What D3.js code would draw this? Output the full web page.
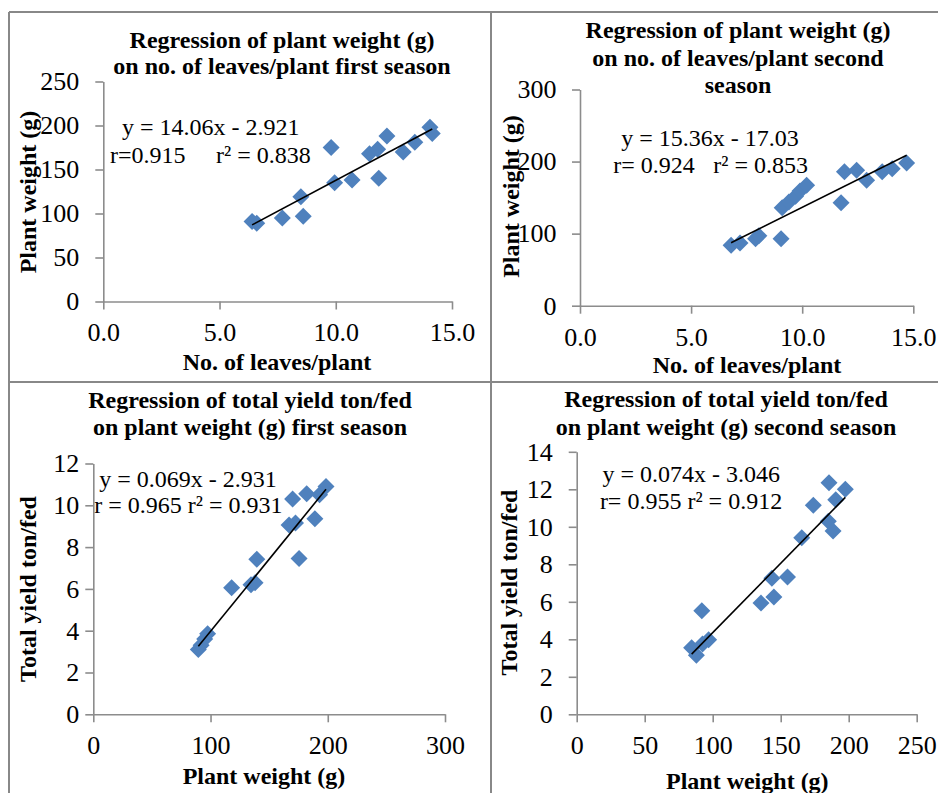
<!DOCTYPE html>
<html>
<head>
<meta charset="utf-8">
<script src="https://cdn.jsdelivr.net/npm/d3@7"></script>
<style>
  body { margin: 0; background: #fff; }
  svg { display: block; }
</style>
</head>
<body>
<svg id="chart" width="938" height="793"></svg>
<script>
// first season: plant weight vs leaves
const leaves1 = [6.4, 6.6, 7.7, 8.5, 8.6, 9.8, 9.95, 10.7, 11.45, 11.8, 11.85, 12.2, 12.9, 13.4, 14.05, 14.15]
const weight1 = [91, 89, 95, 119, 97, 175, 135, 138, 168, 173, 140, 188, 170, 181, 198, 191]

// second season: plant weight vs leaves
const leaves2 = [6.8, 7.2, 7.9, 8.05, 9.05, 9.1, 9.4, 9.7, 9.9, 10.2, 11.75, 11.9, 12.45, 12.9, 13.6, 14.05, 14.7]
const weight2 = [84, 87, 93, 97, 93, 136, 144, 152, 159, 167, 143, 186, 188, 174, 186, 190, 198]

// first season: yield vs plant weight
const pw3 = [89.6, 92, 95, 97.5, 118, 134.5, 138, 139.5, 167, 172.5, 175.5, 170, 182, 189, 193, 198.5]
const yield3 = [3.1, 3.3, 3.6, 3.85, 6.05, 6.2, 6.3, 7.42, 9.06, 9.15, 7.46, 10.3, 10.55, 9.36, 10.5, 10.9]

// second season: yield vs plant weight
const pw4 = [84.5, 88, 92.5, 97, 92, 135.5, 143.5, 145, 155, 165.5, 174, 185.5, 185, 188.5, 190.5, 197.5]
const yield4 = [3.55, 3.15, 3.75, 3.98, 5.52, 5.93, 7.25, 6.26, 7.32, 9.41, 11.15, 12.35, 10.3, 9.78, 11.44, 12.0]

const slopes = [14.06, 15.36, 0.069, 0.074]
const intercepts = [-2.921, -17.03, -2.931, -3.046]

const titles = [
  ["Regression of plant weight (g)", "on no. of leaves/plant first season"],
  ["Regression of plant weight (g)", "on no. of leaves/plant second", "season"],
  ["Regression of total yield ton/fed", "on plant weight (g) first season"],
  ["Regression of total yield ton/fed", "on plant weight (g) second season"]
]
const xTitles = ["No. of leaves/plant", "No. of leaves/plant", "Plant weight (g)", "Plant weight (g)"]
const yTitles = ["Plant weight (g)", "Plant weight (g)", "Total yield ton/fed", "Total yield ton/fed"]

const xTicks1 = [0, 5, 10, 15]
const yTicks1 = [0, 50, 100, 150, 200, 250]
const yTicks2 = [0, 100, 200, 300]
const xTicks3 = [0, 100, 200, 300]
const yTicks3 = [0, 2, 4, 6, 8, 10, 12]
const xTicks4 = [0, 50, 100, 150, 200, 250]
const yTicks4 = [0, 2, 4, 6, 8, 10, 12, 14]

const FONT = '"Liberation Serif", "Times New Roman", serif'
const svg = d3.select('#chart')

// table frame
const frame = svg.append('g').attr('stroke', '#888').attr('stroke-width', 2)
frame.append('line').attr('x1', 9).attr('x2', 9).attr('y1', 12).attr('y2', 793)
frame.append('line').attr('x1', 9).attr('x2', 938).attr('y1', 12).attr('y2', 12)
frame.append('line').attr('x1', 491).attr('x2', 491).attr('y1', 12).attr('y2', 793)
frame.append('line').attr('x1', 9).attr('x2', 938).attr('y1', 382).attr('y2', 382)

const panels = [
  {
    xs: leaves1, ys: weight1, xDom: [0, 15], yDom: [0, 250], xRange: [103.3, 452], yRange: [301.5, 81.5],
    xTicks: xTicks1, yTicks: yTicks1, xFmt: d3.format('.1f'), yPad: 16,
    title: { x: 282, y: [48, 74] }, xt: { x: 277, y: 370 }, yt: { x: 36, y: 192 },
    eq: [
      { text: 'y = 14.06x - 2.921', x: 122, y: 135, anchor: 'start' },
      { text: 'r=0.915', x: 110, y: 162.5, anchor: 'start' },
      { text: 'r² = 0.838', x: 216, y: 162.5, anchor: 'start' }
    ]
  },
  {
    xs: leaves2, ys: weight2, xDom: [0, 15], yDom: [0, 300], xRange: [580, 913.3], yRange: [305.7, 89.5],
    xTicks: xTicks1, yTicks: yTicks2, xFmt: d3.format('.1f'), yPad: 15.5,
    title: { x: 738, y: [37.7, 65.5, 92.5] }, xt: { x: 747, y: 372.5 }, yt: { x: 518.5, y: 196.5 },
    eq: [
      { text: 'y = 15.36x - 17.03', x: 710, y: 145.5, anchor: 'middle' },
      { text: 'r= 0.924', x: 613.3, y: 172.5, anchor: 'start' },
      { text: 'r² = 0.853', x: 713.3, y: 172.5, anchor: 'start' }
    ]
  },
  {
    xs: pw3, ys: yield3, xDom: [0, 300], yDom: [0, 12], xRange: [93.3, 445], yRange: [714.3, 463.5],
    xTicks: xTicks3, yTicks: yTicks3, xFmt: d3.format('d'), yPad: 6,
    title: { x: 250, y: [408, 435.3] }, xt: { x: 264, y: 784 }, yt: { x: 35.5, y: 589 },
    eq: [
      { text: 'y = 0.069x - 2.931', x: 188, y: 487.3, anchor: 'middle' },
      { text: 'r = 0.965 r² = 0.931', x: 188.3, y: 513.3, anchor: 'middle' }
    ]
  },
  {
    xs: pw4, ys: yield4, xDom: [0, 250], yDom: [0, 14], xRange: [576.7, 916.7], yRange: [714.3, 451.8],
    xTicks: xTicks4, yTicks: yTicks4, xFmt: d3.format('d'), yPad: 16,
    title: { x: 726, y: [407.3, 435] }, xt: { x: 747.3, y: 789 }, yt: { x: 517, y: 582.5 },
    eq: [
      { text: 'y = 0.074x - 3.046', x: 691.3, y: 481.7, anchor: 'middle' },
      { text: 'r= 0.955 r² = 0.912', x: 691, y: 509.3, anchor: 'middle' }
    ]
  }
]

const diamond = r => `M0,${-r}L${r},0L0,${r}L${-r},0Z`

panels.forEach((p, i) => {
  const g = svg.append('g')
  const x = d3.scaleLinear().domain(p.xDom).range(p.xRange)
  const y = d3.scaleLinear().domain(p.yDom).range(p.yRange)

  // axes
  const xaxis = d3.axisBottom(x).tickValues(p.xTicks).tickFormat(p.xFmt)
    .tickSize(8).tickSizeOuter(0).tickPadding(13.5)
  const yaxis = d3.axisLeft(y).tickValues(p.yTicks).tickSize(8).tickSizeOuter(0).tickPadding(p.yPad)

  const gx = g.append('g').attr('transform', `translate(0, ${p.yRange[0]})`).call(xaxis)
  const gy = g.append('g').attr('transform', `translate(${p.xRange[0]}, 0)`).call(yaxis)
  ;[gx, gy].forEach(a => {
    a.attr('font-family', null).attr('font-size', null)
    a.selectAll('path, line').attr('stroke', '#8c8c8c').attr('stroke-width', 1.6)
    a.selectAll('text')
      .style('font-family', FONT)
      .style('font-size', '26px')
      .attr('fill', '#000')
  })

  // title
  g.append('text')
    .attr('text-anchor', 'middle')
    .style('font-family', FONT)
    .style('font-size', '24px').style('font-weight', 'bold')
    .selectAll('tspan')
    .data(titles[i])
    .enter()
    .append('tspan')
      .attr('x', p.title.x)
      .attr('y', (d, j) => p.title.y[j])
      .text(d => d)

  // axis titles
  g.append('text')
    .attr('x', p.xt.x).attr('y', p.xt.y)
    .attr('text-anchor', 'middle')
    .style('font-family', FONT)
    .style('font-size', '24px').style('font-weight', 'bold')
    .text(xTitles[i])
  g.append('text')
    .attr('transform', `translate(${p.yt.x}, ${p.yt.y}) rotate(-90)`)
    .attr('text-anchor', 'middle')
    .style('font-family', FONT)
    .style('font-size', '24px').style('font-weight', 'bold')
    .text(yTitles[i])

  // points
  const pts = p.xs.map((v, k) => [v, p.ys[k]])
  g.append('g')
    .selectAll('path')
    .data(pts)
    .enter()
    .append('path')
      .attr('d', diamond(8.5))
      .attr('transform', d => `translate(${x(d[0])}, ${y(d[1])})`)
      .attr('fill', '#4f81bd')

  // trend line from the fitted equation
  const ext = d3.extent(p.xs)
  g.append('line')
    .attr('x1', x(ext[0])).attr('y1', y(slopes[i] * ext[0] + intercepts[i]))
    .attr('x2', x(ext[1])).attr('y2', y(slopes[i] * ext[1] + intercepts[i]))
    .attr('stroke', '#000')
    .attr('stroke-width', 1.6)

  // equation labels
  g.selectAll('.eq')
    .data(p.eq)
    .enter()
    .append('text')
      .attr('x', d => d.x)
      .attr('y', d => d.y)
      .attr('text-anchor', d => d.anchor)
      .style('font-family', FONT)
      .style('font-size', '24px')
      .text(d => d.text)
})
</script>
</body>
</html>
